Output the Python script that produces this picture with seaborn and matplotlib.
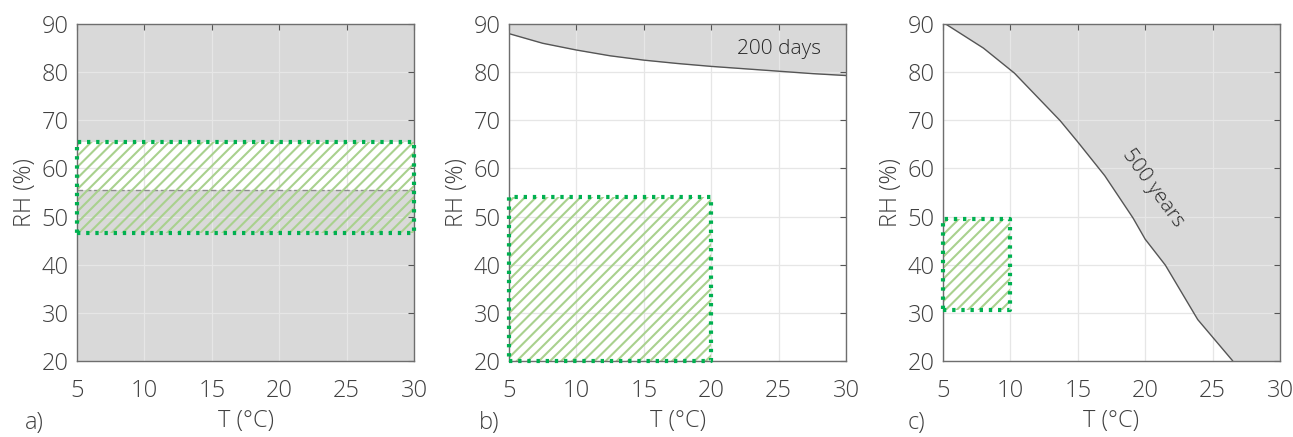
import matplotlib
matplotlib.use("Agg")
import matplotlib.pyplot as plt
import numpy as np
import pandas as pd
import seaborn as sns

# data
t_b = [5, 7.5, 10, 12.5, 15, 17.5, 20, 22.5, 25, 27.5, 30]
rh_b = [88.0, 86.0, 84.6, 83.4, 82.5, 81.8, 81.2, 80.7, 80.2, 79.7, 79.3]

t_c = [5.2, 8.0, 10.3, 13.7, 15.0, 17.0, 19.1, 20.0, 21.5, 23.9, 26.5]
rh_c = [90.0, 85.0, 79.8, 69.9, 65.5, 58.5, 49.7, 45.3, 39.9, 28.6, 20.0]

# green boxes: (t_min, t_max, rh_min, rh_max)
box_a = (5, 30, 46.5, 65.5)
box_b = (5, 20, 20, 54)
box_c = (5, 10, 30.5, 49.5)
white_band_a = (55.5, 65.5)

xticks = [5, 10, 15, 20, 25, 30]
yticks = [20, 30, 40, 50, 60, 70, 80, 90]

sns.set_style("white")
plt.rcParams["font.family"] = ["Open Sans", "DejaVu Sans"]
plt.rcParams["font.weight"] = "light"
plt.rcParams["axes.labelweight"] = "light"
plt.rcParams["hatch.linewidth"] = 1.5

gray = "#d9d9d9"
txt = "#404040"
hatch_col = "#a9d18e"
border_col = "#00b050"
fs = 17

fig = plt.figure(figsize=(12.93, 4.37), dpi=100)
lefts = [0.0596, 0.3937, 0.7293]
axes = [fig.add_axes([l, 0.174, 0.2606, 0.771]) for l in lefts]


def style(ax):
    ax.set_xlim(5, 30)
    ax.set_ylim(20, 90)
    ax.set_xticks(xticks)
    ax.set_yticks(yticks)
    ax.grid(True, color="#e6e6e6", lw=0.9)
    ax.set_axisbelow(True)
    ax.tick_params(direction="in", length=4, width=0.8, colors="#555555",
                   labelcolor=txt, labelsize=fs, top=True, right=True)
    ax.tick_params(axis="x", pad=13)
    ax.tick_params(axis="y", pad=6)
    for s in ax.spines.values():
        s.set_color("#6e6e6e")
        s.set_linewidth(1.0)
    ax.set_xlabel("T (°C)", fontsize=fs, color=txt, labelpad=4)
    ax.set_ylabel("RH (%)", fontsize=fs, color=txt, labelpad=3)


def green_box(ax, box):
    x0, x1, y0, y1 = box
    ax.fill_between([x0, x1], y0, y1, facecolor="none", edgecolor=hatch_col,
                    hatch="///", linewidth=0, zorder=2)
    ax.plot([x0, x1, x1, x0, x0], [y0, y0, y1, y1, y0], color=border_col,
            lw=3, linestyle=(0, (0.8, 1.4)), zorder=3, clip_on=False)


# panel a
ax = axes[0]
ax.set_facecolor(gray)
ax.fill_between([5, 30], white_band_a[0], white_band_a[1], color="white",
                lw=0, zorder=0.3)
ax.axhline(white_band_a[0], color="#8c8c8c", lw=1, ls=(0, (4, 2)), zorder=1)
style(ax)
green_box(ax, box_a)

# panel b
ax = axes[1]
df_b = pd.DataFrame({"T": t_b, "RH": rh_b})
ax.fill_between(df_b["T"], df_b["RH"], 90, color=gray, lw=0, zorder=0.3)
sns.lineplot(data=df_b, x="T", y="RH", ax=ax, color="#555555", lw=1)
style(ax)
green_box(ax, box_b)
ax.text(25, 84.8, "200 days", fontsize=15, color="#262626", ha="center",
        va="center")

# panel c
ax = axes[2]
df_c = pd.DataFrame({"T": t_c, "RH": rh_c})
ax.fill_between(list(df_c["T"]) + [30], list(df_c["RH"]) + [20], 90,
                color=gray, lw=0, zorder=0.3)
sns.lineplot(data=df_c, x="T", y="RH", ax=ax, color="#555555", lw=1)
style(ax)
green_box(ax, box_c)
ax.text(20.6, 56, "500 years", fontsize=15, color="#262626", ha="center",
        va="center", rotation=-54)

for lbl, x in zip(["a)", "b)", "c)"], [0.019, 0.37, 0.702]):
    fig.text(x, 0.005, lbl, fontsize=fs, color=txt, va="bottom")

fig.savefig("out.png", dpi=100)
